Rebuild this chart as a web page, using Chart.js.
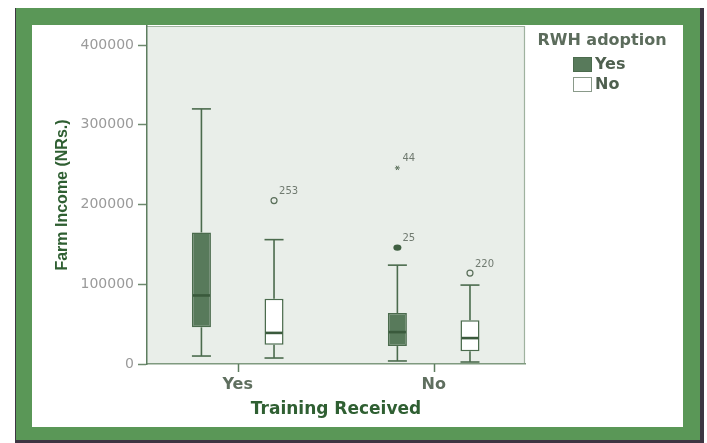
<!DOCTYPE html>
<html><head><meta charset="utf-8">
<script src="https://cdn.jsdelivr.net/npm/chart.js@4.4.1/dist/chart.umd.min.js"></script>
<style>html,body{margin:0;padding:0;background:#fff;overflow:hidden}canvas{display:block}</style>
</head><body>
<canvas id="c" width="707" height="443"></canvas>
<script>
// ---- data ----
const categories = ['Yes', 'No'];            // Training Received
const seriesLabels = ['Yes', 'No'];          // RWH adoption
const yesLow    = [10000, 3800];
const yesQ1     = [46000, 22500];
const yesMedian = [86000, 40000];
const yesQ3     = [165000, 64000];
const yesHigh   = [320000, 124000];
const noLow     = [7500, 2500];
const noQ1      = [24000, 16000];
const noMedian  = [39000, 32500];
const noQ3      = [82000, 55000];
const noHigh    = [156000, 99000];
const outlierCategory = [0, 1, 1, 1];        // index into categories
const outlierSeries   = [1, 0, 0, 1];        // index into seriesLabels
const outlierValues   = [205000, 246000, 146000, 114000];
const outlierIds      = ['253', '44', '25', '220'];
const outlierMarks    = ['circle', 'star', 'dot', 'circle'];
const yTickValues = [0, 100000, 200000, 300000, 400000];
const yMax = 424000;

const stats = [
  {label: seriesLabels[0], low: yesLow, q1: yesQ1, med: yesMedian, q3: yesQ3, high: yesHigh},
  {label: seriesLabels[1], low: noLow,  q1: noQ1,  med: noMedian,  q3: noQ3,  high: noHigh}
];
const fills = ['#587a5b', '#ffffff'];
const lineColor = '#4b6b4d';

const framePlugin = {
  id: 'frame',
  beforeDraw(chart) {
    const ctx = chart.ctx, a = chart.chartArea;
    ctx.save();
    ctx.fillStyle = '#ffffff'; ctx.fillRect(0, 0, 707, 443);
    ctx.fillStyle = '#3d3642'; ctx.fillRect(15, 8, 689, 435);
    ctx.fillStyle = '#5a9757'; ctx.fillRect(16, 8, 684, 432);
    ctx.fillStyle = '#ffffff'; ctx.fillRect(32, 25, 651, 402);
    ctx.fillStyle = '#e9eee9'; ctx.fillRect(a.left, a.top, a.right - a.left, a.bottom - a.top);
    ctx.strokeStyle = '#9fb29f'; ctx.lineWidth = 1.2;
    ctx.beginPath();
    ctx.moveTo(a.left, a.top + 0.5); ctx.lineTo(a.right - 0.5, a.top + 0.5); ctx.lineTo(a.right - 0.5, a.bottom);
    ctx.stroke();
    ctx.restore();
  }
};

const boxPlugin = {
  id: 'boxplot',
  afterDatasetsDraw(chart) {
    const ctx = chart.ctx, ys = chart.scales.y, xs = chart.scales.x;
    const line = (x1, y1, x2, y2) => { ctx.beginPath(); ctx.moveTo(x1, y1); ctx.lineTo(x2, y2); ctx.stroke(); };
    ctx.save();
    // category tick marks below the x axis
    ctx.strokeStyle = '#5d7d5f'; ctx.lineWidth = 1.5;
    xs.ticks.forEach((t, i) => {
      const px = Math.round(xs.getPixelForTick(i)) + 0.5;
      line(px, xs.top, px, xs.top + 8);
    });
    stats.forEach((s, si) => {
      chart.getDatasetMeta(si).data.forEach((bar, i) => {
        const x = bar.x, w = bar.width;
        const yl = ys.getPixelForValue(s.low[i]);
        const y1 = ys.getPixelForValue(s.q1[i]);
        const ym = ys.getPixelForValue(s.med[i]);
        const y3 = ys.getPixelForValue(s.q3[i]);
        const yh = ys.getPixelForValue(s.high[i]);
        ctx.strokeStyle = lineColor; ctx.lineWidth = 1.6;
        line(x, y3, x, yh); line(x, y1, x, yl);
        line(x - w / 2, yh, x + w / 2, yh);
        line(x - w / 2, yl, x + w / 2, yl);
        ctx.strokeStyle = '#3a5a3c'; ctx.lineWidth = 2.6;
        line(x - w / 2 + 1, ym, x + w / 2 - 1, ym);
      });
    });
    outlierValues.forEach((v, k) => {
      const bar = chart.getDatasetMeta(outlierSeries[k]).data[outlierCategory[k]];
      const x = bar.x, y = ys.getPixelForValue(v);
      ctx.strokeStyle = '#5a6f5a'; ctx.fillStyle = '#3f5f41'; ctx.lineWidth = 1.2;
      if (outlierMarks[k] === 'circle') {
        ctx.beginPath(); ctx.arc(x, y, 3, 0, Math.PI * 2); ctx.stroke();
      } else if (outlierMarks[k] === 'dot') {
        ctx.beginPath(); ctx.ellipse(x, y, 4, 3.2, 0, 0, Math.PI * 2); ctx.fill();
      } else {
        ctx.lineWidth = 1;
        for (let a = 0; a < 3; a++) {
          const ang = a * Math.PI / 3;
          line(x - 2.5 * Math.cos(ang), y - 2.5 * Math.sin(ang), x + 2.5 * Math.cos(ang), y + 2.5 * Math.sin(ang));
        }
      }
      ctx.fillStyle = '#707a70';
      ctx.font = '10px "DejaVu Sans"';
      ctx.textAlign = 'left'; ctx.textBaseline = 'middle';
      ctx.fillText(outlierIds[k], x + 5, y - 9);
    });
    ctx.restore();
  },
  afterDraw(chart) {
    const ctx = chart.ctx;
    ctx.save();
    ctx.font = 'bold 16px "DejaVu Sans"';
    ctx.fillStyle = '#5c6c5c'; ctx.textAlign = 'center'; ctx.textBaseline = 'middle';
    ctx.fillText('RWH adoption', 602, 41);
    seriesLabels.forEach((lab, i) => {
      const y = 57 + i * 20;
      ctx.fillStyle = fills[i]; ctx.fillRect(573, y, 19, 15);
      ctx.strokeStyle = i === 0 ? lineColor : '#8a9a8a'; ctx.lineWidth = 1;
      ctx.strokeRect(573.5, y + 0.5, 18, 14);
      ctx.fillStyle = '#4f604f'; ctx.textAlign = 'left';
      ctx.fillText(lab, 595, y + 8);
    });
    ctx.restore();
  }
};

new Chart(document.getElementById('c'), {
  type: 'bar',
  data: {
    datasets: stats.map((s, si) => ({
      label: s.label,
      data: categories.map((c, i) => ({x: i + 1, y: [s.q1[i], s.q3[i]]})),
      backgroundColor: fills[si],
      borderColor: lineColor,
      borderWidth: 1.5,
      borderSkipped: false,
      categoryPercentage: 0.741,
      barPercentage: 0.262
    }))
  },
  options: {
    responsive: false,
    animation: false,
    devicePixelRatio: 1,
    layout: {padding: {top: 26, right: 182, bottom: 0, left: 0}},
    plugins: {legend: {display: false}, tooltip: {enabled: false}},
    scales: {
      x: {
        type: 'linear', min: 0.537, max: 2.466, offset: false, bounds: 'data',
        afterBuildTicks: sc => { sc.ticks = categories.map((c, i) => ({value: i + 1})); },
        afterFit: sc => { sc.height = 79; },
        ticks: {callback: (v, i) => categories[i], color: '#5f6f5f', font: {family: 'DejaVu Sans', size: 16, weight: 'bold'}, padding: 11, autoSkip: false, maxRotation: 0},
        grid: {display: false, drawOnChartArea: false, drawTicks: false},
        border: {display: true, color: '#7f9a7f', width: 1.5},
        title: {display: true, text: 'Training Received', color: '#2f5f32', font: {family: 'DejaVu Sans', size: 17, weight: 'bold'}, padding: {top: 0, bottom: 23}}
      },
      y: {
        min: 0, max: yMax, bounds: 'data',
        afterBuildTicks: sc => { sc.ticks = yTickValues.map(v => ({value: v})); },
        afterFit: sc => { sc.width = 147; },
        ticks: {callback: v => String(v), color: '#9a9a9a', font: {family: 'DejaVu Sans', size: 14}, padding: 4},
        grid: {drawOnChartArea: false, tickLength: 9, color: '#6d8a6d', tickWidth: 1.5},
        border: {color: '#5d7d5f', width: 1.5},
        title: {display: true, text: 'Farm Income (NRs.)', color: '#2f5f32', font: {family: 'Liberation Sans', size: 16, weight: 'bold'}, padding: {top: 53, bottom: 0}}
      }
    }
  },
  plugins: [framePlugin, boxPlugin]
});
</script>
</body></html>
